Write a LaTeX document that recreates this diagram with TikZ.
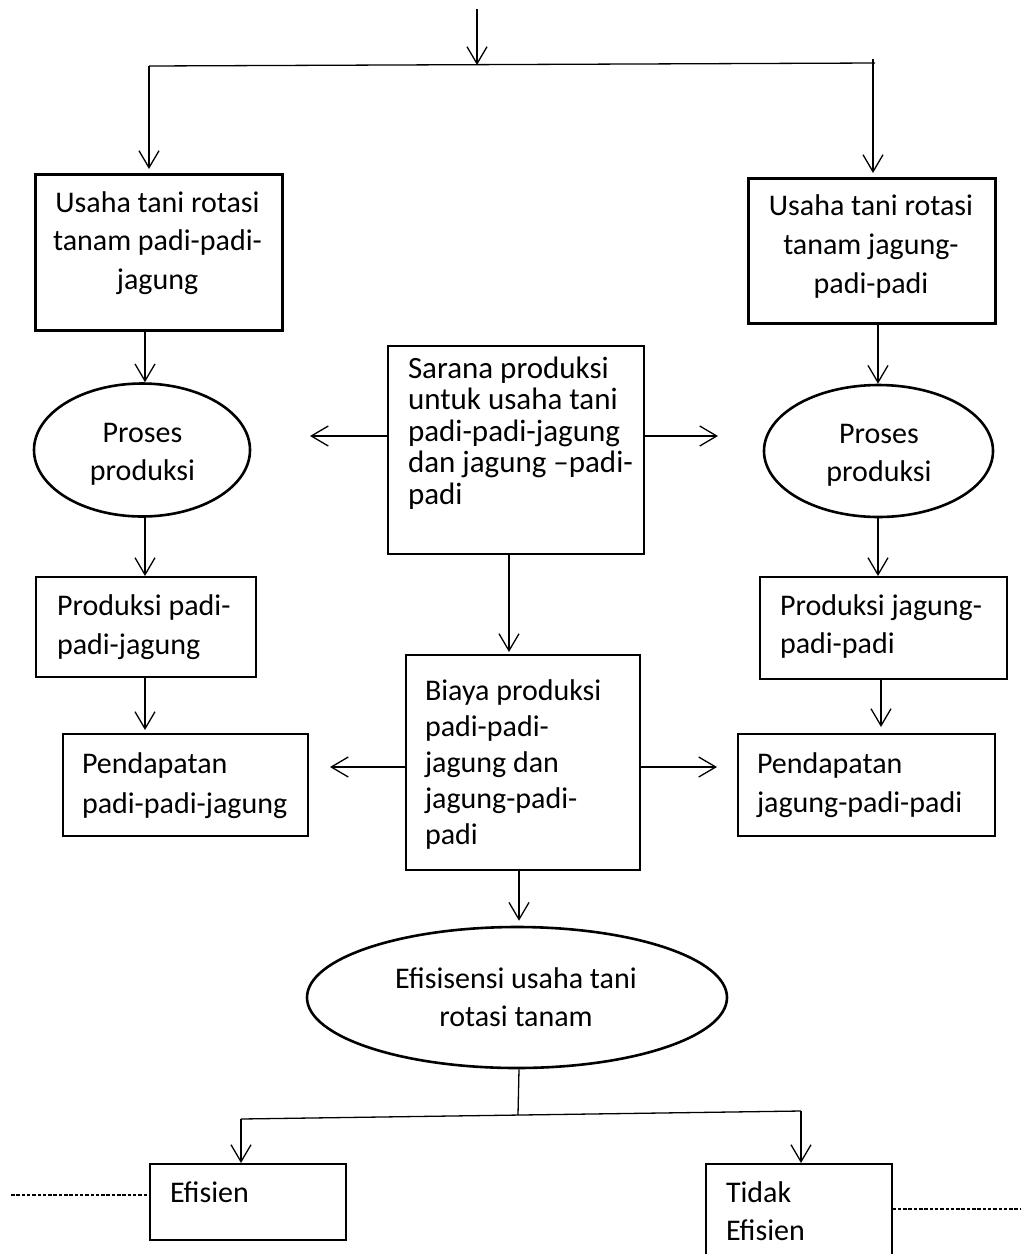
\documentclass[tikz,border=0pt]{standalone}
\usepackage{fontspec}
\setmainfont{Carlito}
\usetikzlibrary{arrows.meta,shapes.geometric}
\newcommand{\LinesL}[2]{\vtop{\baselineskip=#1pt\lineskiplimit=-200pt\lineskip=0pt\halign{##\hfil\cr#2\crcr}}}
\newcommand{\LinesC}[2]{\vtop{\baselineskip=#1pt\lineskiplimit=-200pt\lineskip=0pt\halign{\hfil##\hfil\cr#2\crcr}}}
\tikzset{
  rbox/.style={draw, rectangle, inner sep=0pt, line width=1.5pt, anchor=north west},
  tbox/.style={rbox, line width=3pt},
  oval/.style={draw, ellipse, inner sep=0pt, line width=2.6pt},
  tx/.style={inner sep=0pt, outer sep=0pt},
  conn/.style={line width=1.3pt},
  arr/.style={conn, -{Straight Barb[length=17pt,width=20pt]}},
  dashln/.style={line width=1.3pt, dash pattern=on 3.5pt off 1.8pt},
}
\begin{document}
\begin{tikzpicture}[x=1pt, y=-1pt, font=\fontsize{30}{36}\selectfont]
\useasboundingbox[fill=white] (0,0) rectangle (1021,1254);

% boxes
\node[tbox, minimum width=247pt, minimum height=156pt] (b1) at (34,173) {};
\node[tbox, minimum width=247pt, minimum height=145pt] (b2) at (747,177) {};
\node[rbox, minimum width=256pt, minimum height=208pt] (s) at (387,345) {};
\node[rbox, minimum width=234pt, minimum height=215pt] (b) at (405,654) {};
\node[rbox, minimum width=220pt, minimum height=100pt] (p1) at (35,576) {};
\node[rbox, minimum width=245pt, minimum height=102pt] (d1) at (62,733) {};
\node[rbox, minimum width=247pt, minimum height=102pt] (p2) at (759,576) {};
\node[rbox, minimum width=257pt, minimum height=102pt] (d2) at (737,733) {};
\node[rbox, minimum width=196pt, minimum height=76pt] (E) at (149,1163) {};
\node[rbox, minimum width=186pt, minimum height=100pt] (T) at (705,1163) {};

% ellipses
\node[oval, minimum width=216pt, minimum height=133pt] (e1) at (142,450) {};
\node[oval, minimum width=229pt, minimum height=132pt] (e2) at (878.5,451) {};
\node[oval, minimum width=420pt, minimum height=141pt] (ef) at (517,997.5) {};

% texts
\node[tx, anchor=base] (t1) at (157.5,212) {\LinesC{38.5}{Usaha tani rotasi\cr tanam padi-padi-\cr jagung}};
\node[tx, anchor=base] (t2) at (871,215) {\LinesC{39}{Usaha tani rotasi\cr tanam jagung-\cr padi-padi}};
\node[tx, anchor=base] (te1) at (142.5,442) {\LinesC{38}{Proses\cr produksi}};
\node[tx, anchor=base] (te2) at (879,443) {\LinesC{38}{Proses\cr produksi}};
\node[tx, anchor=base west, font=\fontsize{31}{36}\selectfont] (ts) at (408,378) {\LinesL{31.5}{Sarana produksi\cr untuk usaha tani\cr padi-padi-jagung\cr dan jagung –padi-\cr padi}};
\node[tx, anchor=base west] (tb) at (425,700) {\LinesL{36}{Biaya produksi\cr padi-padi-\cr jagung dan\cr jagung-padi-\cr padi}};
\node[tx, anchor=base west] (tp1) at (57,615) {\LinesL{39}{Produksi padi-\cr padi-jagung}};
\node[tx, anchor=base west] (td1) at (82,773) {\LinesL{40}{Pendapatan\cr padi-padi-jagung}};
\node[tx, anchor=base west] (tp2) at (780,615) {\LinesL{38}{Produksi jagung-\cr padi-padi}};
\node[tx, anchor=base west] (td2) at (757,773) {\LinesL{39}{Pendapatan\cr jagung-padi-padi}};
\node[tx, anchor=base] (tef) at (516,988) {\LinesC{38}{Efisisensi usaha tani\cr rotasi tanam}};
\node[tx, anchor=base west] (tE) at (170,1202) {Efisien};
\node[tx, anchor=base west] (tT) at (726,1202) {\LinesL{38}{Tidak\cr Efisien}};

% coordinates
\coordinate (top0) at (477,9);
\coordinate (topj) at (477,65);
\coordinate (hl) at (149,66);
\coordinate (hr) at (875,63);
\coordinate (hrt) at (873,59);
\coordinate (xL) at (145,0);
\coordinate (xR) at (878,0);
\coordinate (xR2) at (881,0);
\coordinate (xM) at (509,0);
\coordinate (xB) at (519,0);
\coordinate (sl) at (310,436);
\coordinate (sr) at (718,436);
\coordinate (bl2) at (330,767);
\coordinate (br2) at (717,767);
\coordinate (bj) at (518,1115);
\coordinate (bl) at (241,1119);
\coordinate (br) at (801,1111);
\coordinate (dl) at (11,1195);
\coordinate (dr) at (1021,1209);

% connectors
\draw[arr] (top0) -- (topj);
\draw[conn] (hl) -- (hr);
\draw[arr, shorten >=4pt] (hl) -- (hl |- b1.north);
\draw[arr, shorten >=4pt] (hrt) -- (hrt |- b2.north);
\draw[arr] (xL |- b1.south) -- (xL |- e1.north);
\draw[arr] (xR |- b2.south) -- (xR |- e2.north);
\draw[arr] (xL |- e1.south) -- (xL |- p1.north);
\draw[arr, shorten >=3pt] (xL |- p1.south) -- (xL |- d1.north);
\draw[arr] (xR |- e2.south) -- (xR |- p2.north);
\draw[arr, shorten >=6pt] (xR2 |- p2.south) -- (xR2 |- d2.north);
\draw[arr] (sl -| s.west) -- (sl);
\draw[arr] (sr -| s.east) -- (sr);
\draw[arr, shorten >=2pt] (xM |- s.south) -- (xM |- b.north);
\draw[arr] (bl2 -| b.west) -- (bl2);
\draw[arr] (br2 -| b.east) -- (br2);
\draw[arr, shorten >=5pt] (xB |- b.south) -- (xB |- ef.north);
\draw[conn] (xB |- ef.south) -- (bj);
\draw[conn] (bl) -- (br);
\draw[arr] (bl) -- (bl |- E.north);
\draw[arr] (br) -- (br |- T.north);
\draw[dashln] (dl) -- (dl -| E.west);
\draw[dashln] (dr -| T.east) -- (dr);
\end{tikzpicture}
\end{document}
